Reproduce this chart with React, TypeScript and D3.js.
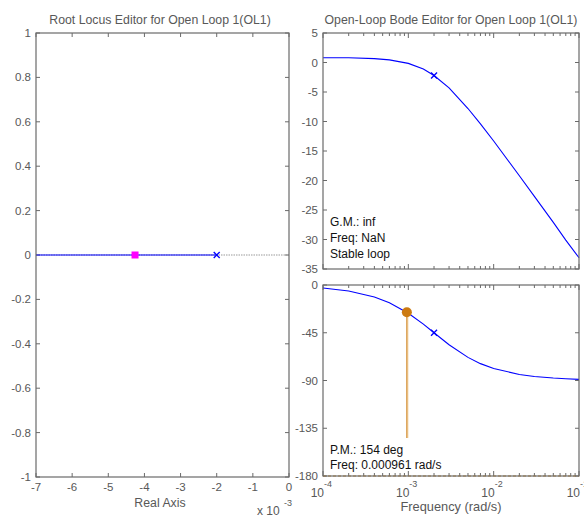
import React from "react";
import * as d3 from "d3";

const rlXTicks = [-7, -6, -5, -4, -3, -2, -1, 0];
const rlYTicks = [1, 0.8, 0.6, 0.4, 0.2, 0, -0.2, -0.4, -0.6, -0.8, -1];
const rlOpenLoopPole = -2e-3;
const rlClosedLoopPole = -4.26e-3;

const bodeFreq = [1e-4, 2e-4, 4e-4, 6e-4, 1e-3, 1.5e-3, 2e-3, 3e-3, 5e-3, 7e-3, 1e-2, 2e-2, 3e-2, 5e-2, 7e-2, 1e-1];
const bodeMag = [0.8, 0.8, 0.65, 0.45, -0.15, -1.1, -2.2, -4.3, -7.8, -10.4, -13.3, -19.2, -22.7, -27.1, -30.1, -33.1];
const bodePhase = [-2.9, -5.7, -11.3, -16.7, -26.6, -36.9, -45, -56.3, -68.2, -74.1, -78.7, -84.3, -86.2, -87.7, -88.4, -88.9];
const magTicks = [5, 0, -5, -10, -15, -20, -25, -30, -35];
const phaseTicks = [0, -45, -90, -135, -180];
const freqDecades = [-4, -3, -2, -1];
const pmFreq = 0.000961;
const pmPhase = -25.7;
const crossFreq = 2e-3;
const crossMag = -2.2;
const crossPhase = -45;

const FONT = "'Liberation Sans', Arial, sans-serif";
const AX = "#6a6a6a";
const TXT = "#585858";

export default function App() {
  const rx = d3.scaleLinear().domain([-7e-3, 0]).range([36, 289]);
  const ry = d3.scaleLinear().domain([-1, 1]).range([477, 33]);
  const bx = d3.scaleLog().domain([1e-4, 1e-1]).range([323, 579]);
  const my = d3.scaleLinear().domain([-35, 5]).range([269, 33]);
  const py = d3.scaleLinear().domain([-180, 0]).range([476, 285]);

  const magLine = d3.line<number>().x((_, i) => bx(bodeFreq[i])).y((d) => my(d));
  const phLine = d3.line<number>().x((_, i) => bx(bodeFreq[i])).y((d) => py(d));

  const minorFreqs: { f: number; major: boolean }[] = [];
  for (let e = -4; e <= -2; e++) {
    for (let m = 1; m <= 9; m++) minorFreqs.push({ f: m * Math.pow(10, e), major: m === 1 });
  }
  minorFreqs.push({ f: 1e-1, major: true });

  const tl = 4;

  const bodeXTicks = (yTop: number, yBot: number) =>
    minorFreqs.map((t, i) => {
      const x = bx(t.f);
      const l = t.major ? 5 : 3;
      return (
        <g key={i}>
          <line x1={x} x2={x} y1={yTop} y2={yTop + l} stroke={AX} />
          <line x1={x} x2={x} y1={yBot} y2={yBot - l} stroke={AX} />
        </g>
      );
    });

  const cross = (x: number, y: number, k: string) => (
    <g key={k} stroke="#0000ff" strokeWidth={1.3}>
      <line x1={x - 3} x2={x + 3} y1={y - 3} y2={y + 3} />
      <line x1={x - 3} x2={x + 3} y1={y + 3} y2={y - 3} />
    </g>
  );

  return (
    <svg width={584} height={518} style={{ position: "absolute", left: 0, top: 0, background: "#fff" }} fontFamily={FONT} fontSize={11.5}>
      <rect x={0} y={0} width={584} height={518} fill="#fff" />
      {/* ===== Root locus ===== */}
      <text x={160} y={24} textAnchor="middle" fill={TXT} fontSize={12.3}>
        Root Locus Editor for Open Loop 1(OL1)
      </text>
      {rlXTicks.map((t) => {
        const x = rx(t * 1e-3);
        return (
          <g key={"rx" + t}>
            <line x1={x} x2={x} y1={477} y2={477 - tl} stroke={AX} />
            <line x1={x} x2={x} y1={33} y2={33 + tl} stroke={AX} />
            <text x={x} y={491} textAnchor="middle" fill={TXT}>{t}</text>
          </g>
        );
      })}
      {rlYTicks.map((t) => {
        const y = ry(t);
        return (
          <g key={"ry" + t}>
            <line x1={36} x2={36 + tl} y1={y} y2={y} stroke={AX} />
            <line x1={289} x2={289 - tl} y1={y} y2={y} stroke={AX} />
            <text x={31} y={y + 4} textAnchor="end" fill={TXT}>{t}</text>
          </g>
        );
      })}
      <line x1={rx(-7e-3)} x2={rx(0)} y1={ry(0)} y2={ry(0)} stroke="#999" strokeDasharray="1.5,1" />
      <line x1={rx(-7e-3)} x2={rx(rlOpenLoopPole)} y1={ry(0)} y2={ry(0)} stroke="#0000ff" strokeWidth={1.2} />
      {cross(rx(rlOpenLoopPole), ry(0), "olp")}
      <rect x={rx(rlClosedLoopPole) - 3.5} y={ry(0) - 3.5} width={7} height={7} fill="#ff00ff" />
      <rect x={36} y={33} width={253} height={444} fill="none" stroke={AX} strokeWidth={1.2} />
      <text x={160} y={507} textAnchor="middle" fill={TXT} fontSize={12.3}>Real Axis</text>
      <text x={257} y={515} fill={TXT} fontSize={12}>x 10</text>
      <text x={284} y={506} fill={TXT} fontSize={9}>-3</text>

      {/* ===== Bode magnitude ===== */}
      <text x={451} y={24} textAnchor="middle" fill={TXT} fontSize={12.3}>
        Open-Loop Bode Editor for Open Loop 1(OL1)
      </text>
      {bodeXTicks(33, 269)}
      {magTicks.map((t) => {
        const y = my(t);
        return (
          <g key={"my" + t}>
            <line x1={323} x2={323 + tl} y1={y} y2={y} stroke={AX} />
            <line x1={579} x2={579 - tl} y1={y} y2={y} stroke={AX} />
            <text x={318} y={y + 4} textAnchor="end" fill={TXT}>{t}</text>
          </g>
        );
      })}
      <path d={magLine(bodeMag) || ""} fill="none" stroke="#0000ff" strokeWidth={1.1} />
      {cross(bx(crossFreq), my(crossMag), "cm")}
      <text x={330} y={226} fill="#111" fontSize={12}>G.M.: inf</text>
      <text x={330} y={242} fill="#111" fontSize={12}>Freq: NaN</text>
      <text x={330} y={258} fill="#111" fontSize={12}>Stable loop</text>
      <rect x={323} y={33} width={256} height={236} fill="none" stroke={AX} strokeWidth={1.2} />

      {/* ===== Bode phase ===== */}
      {bodeXTicks(285, 476)}
      {phaseTicks.map((t) => {
        const y = py(t);
        return (
          <g key={"py" + t}>
            <line x1={323} x2={323 + tl} y1={y} y2={y} stroke={AX} />
            <line x1={579} x2={579 - tl} y1={y} y2={y} stroke={AX} />
            <text x={318} y={y + 4} textAnchor="end" fill={TXT}>{t}</text>
          </g>
        );
      })}
      <line x1={323} x2={579} y1={py(-180)} y2={py(-180)} stroke="#d08a20" strokeDasharray="3,2" />
      <path d={phLine(bodePhase) || ""} fill="none" stroke="#0000ff" strokeWidth={1.1} />
      <line x1={bx(pmFreq) + 1} x2={bx(pmFreq) + 1} y1={py(pmPhase)} y2={438} stroke="#f3d09a" strokeWidth={1} />
      <line x1={bx(pmFreq)} x2={bx(pmFreq)} y1={py(pmPhase)} y2={438} stroke="#cc7a10" strokeWidth={1} />
      <circle cx={bx(pmFreq)} cy={py(pmPhase)} r={5} fill="#cc7a10" />
      {cross(bx(crossFreq), py(crossPhase), "cp")}
      <text x={330} y={454} fill="#111" fontSize={12}>P.M.: 154 deg</text>
      <text x={330} y={469} fill="#111" fontSize={12}>Freq: 0.000961 rad/s</text>
      <rect x={323} y={285} width={256} height={191} fill="none" stroke={AX} strokeWidth={1.2} />
      {freqDecades.map((e) => {
        const x = bx(Math.pow(10, e));
        return (
          <g key={"fd" + e}>
            <text x={x + 1} y={497} textAnchor="end" fill={TXT} fontSize={12}>10</text>
            <text x={x + 1} y={487} fill={TXT} fontSize={9}>{e}</text>
          </g>
        );
      })}
      <text x={451} y={511} textAnchor="middle" fill={TXT} fontSize={12.8}>Frequency (rad/s)</text>
    </svg>
  );
}
